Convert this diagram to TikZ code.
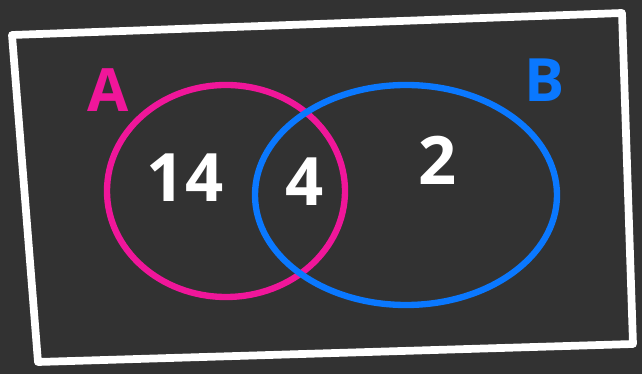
\documentclass[tikz,border=0pt]{standalone}
\usepackage{fontspec}
\setmainfont{Open Sans}
\definecolor{board}{HTML}{323232}
\definecolor{setpink}{HTML}{F0169A}
\definecolor{setblue}{HTML}{0A78FF}
\tikzset{
  chalk/.style={line width=3.6pt, line cap=round, line join=round},
  count/.style={text=white, font=\fontsize{38}{38}\selectfont\bfseries},
  setname/.style={font=\fontsize{34}{34}\selectfont\bfseries},
}
\begin{document}
\begin{tikzpicture}
    % Board
    \fill[board] (0,0) rectangle (12.84,7.48);
    \useasboundingbox (0,0) rectangle (12.84,7.48);

    % Frame
    \draw[chalk, white, line width=4.4pt] (0.24,6.78) -- (12.44,7.22) -- (12.66,0.6) -- (0.76,0.24) -- cycle;

    % Sets
    \draw[chalk, setpink] (4.52,3.66) ellipse (2.38 and 2.12);
    \draw[chalk, setblue] (8.12,3.58) ellipse (3.02 and 2.2);

    % Names
    \node[setname, text=setpink] (nameA) at (2.16,5.68) {A};
    \node[setname, text=setblue] (nameB) at (10.9,5.88) {B};

    % Counts
    \node[count] (onlyA) at (3.7,3.92) {14};
    \node[count] (both) at (6.1,3.84) {4};
    \node[count] (onlyB) at (8.76,4.28) {2};
\end{tikzpicture}
\end{document}
